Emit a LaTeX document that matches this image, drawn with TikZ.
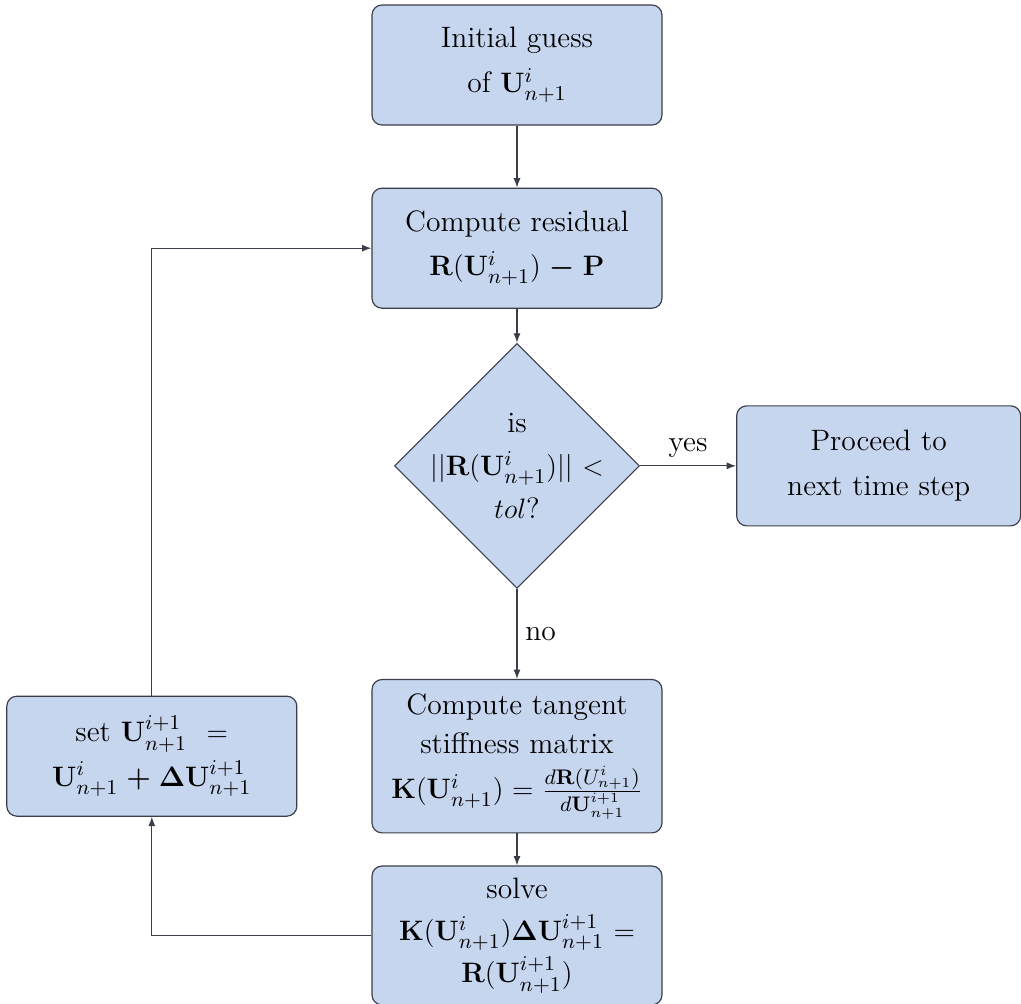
\documentclass[tikz,border=0pt]{standalone}
\usepackage{xcolor}
\usepackage{amsmath,amssymb}
\usepackage{tikz}
\usetikzlibrary{arrows.meta,positioning,shapes.geometric}

\definecolor{boxfill}{RGB}{199,214,239}
\definecolor{boxline}{RGB}{58,62,74}

\begin{document}
\begin{tikzpicture}[node distance=0.93cm,>={Latex[length=4pt,width=3pt]},line width=0.5pt]
\tikzstyle{stepbox}=[draw=boxline, fill=boxfill, rounded corners=0.15cm, align=center, text width=3.9cm, minimum width=4.35cm, minimum height=1.8cm, inner sep=5pt, font=\fontsize{12.6}{19}\selectfont]
\tikzstyle{decision}=[draw=boxline, fill=boxfill, diamond, minimum size=3.675cm, inner sep=0pt]
\tikzstyle{link}=[draw=boxline, ->]
\useasboundingbox (-7.755,0.975) rectangle (7.56,-14.085);

\node[stepbox] (init) {Initial guess \\ of $\mathbf{U}^i_{n+1}$};
\node[stepbox, below=0.93cm of init] (res) {Compute residual \\ $\mathbf{R}(\mathbf{U}^i_{n+1}) \boldsymbol{-} \mathbf{P}$};
\node[decision, below=0.51cm of res, label={[align=center, font=\fontsize{12.6}{18.5}\selectfont]center:is \\ $||\mathbf{R}(\mathbf{U}^i_{n+1})||$ ${<}$ \\ $tol$?}] (check) {};
\node[stepbox, right=1.44cm of check, minimum width=4.26cm, text width=3.8cm] (next) {Proceed to \\ next time step};
\node[stepbox, below=1.35cm of check, minimum height=2.3cm, font=\fontsize{12.6}{17}\selectfont] (tangent) {Compute tangent \\ stiffness matrix \\[2pt] $\mathbf{K}(\mathbf{U}^i_{n+1}) = \frac{d\mathbf{R}(U^i_{n+1})}{d\mathbf{U}^{i+1}_{n+1}}$};
\node[stepbox, below=0.48cm of tangent, minimum height=2.07cm, font=\fontsize{12.6}{18}\selectfont] (solve) {solve \\ $\mathbf{K}(\mathbf{U}^i_{n+1})\mathbf{\Delta U}^{i+1}_{n+1} =$ \\ $\mathbf{R}(\mathbf{U}^{i+1}_{n+1})$};
\node[stepbox, left=1.11cm of tangent] (update) {set $\mathbf{U}^{i+1}_{n+1}$ \ $=$ \\ $\mathbf{U}^i_{n+1} \boldsymbol{+} \mathbf{\Delta U}^{i+1}_{n+1}$};

\draw[link] (init) -- (res);
\draw[link] (res) -- (check);
\draw[link] (check) -- (next) node[midway, above, font=\fontsize{12.6}{16}\selectfont]{yes};
\draw[link] (check) -- (tangent) node[midway, right, font=\fontsize{12.6}{16}\selectfont]{no};
\draw[link] (tangent) -- (solve);
\draw[link] (solve.west) -| (update.south);
\draw[link] (update.north) |- (res.west);
\end{tikzpicture}
\end{document}
